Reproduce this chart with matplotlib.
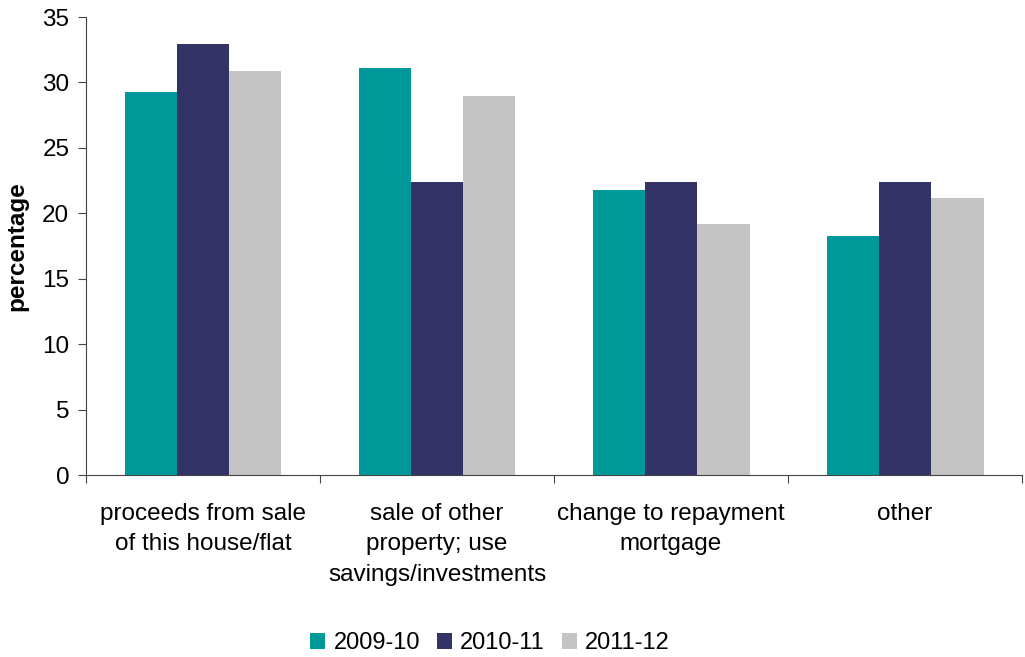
import numpy as np
import matplotlib.pyplot as plt

plt.rcParams['font.family'] = ['Liberation Sans', 'DejaVu Sans']

categories = ['proceeds from sale\nof this house/flat',
              'sale of other\nproperty; use\nsavings/investments',
              'change to repayment\nmortgage',
              'other']
years = ['2009-10', '2010-11', '2011-12']
v_2009 = [29.3, 31.1, 21.8, 18.3]
v_2010 = [32.9, 22.4, 22.4, 22.4]
v_2011 = [30.9, 29.0, 19.2, 21.2]
colors = ['#009999', '#333366', '#C4C4C4']

fs = 17.5

fig = plt.figure(figsize=(10.25, 6.57), dpi=100)
ax = fig.add_axes([0.0839, 0.277, 0.9132, 0.6971])

x = np.arange(len(categories))
w = 0.2236
for i, (vals, lab) in enumerate(zip([v_2009, v_2010, v_2011], years)):
    ax.bar(x + (i - 1) * w, vals, width=w, color=colors[i], label=lab)

ax.set_xlim(-0.5, len(categories) - 0.5)
ax.set_ylim(0, 35)
ax.set_yticks(range(0, 36, 5))
ax.set_xticks(np.arange(-0.5, len(categories), 1.0))
ax.set_xticklabels([])
ax.set_xticks(x, minor=True)
ax.set_xticklabels(categories, minor=True, fontsize=fs, linespacing=1.5, va='top')
ax.tick_params(axis='x', which='minor', length=0, pad=20)
ax.tick_params(axis='x', which='major', direction='out', length=6, color='#444444')
ax.tick_params(axis='y', direction='out', length=6, labelsize=fs, color='#444444', pad=6)

for s in ['top', 'right']:
    ax.spines[s].set_visible(False)
for s in ['left', 'bottom']:
    ax.spines[s].set_color('#444444')

ax.set_ylabel('percentage', fontsize=fs, fontweight='bold', labelpad=10)

fig.legend(loc='lower center', bbox_to_anchor=(0.478, -0.028), ncol=3, frameon=False,
           fontsize=17, handlelength=0.65, handleheight=0.65, handletextpad=0.35,
           columnspacing=0.7)

fig.savefig('out.png', dpi=100)
